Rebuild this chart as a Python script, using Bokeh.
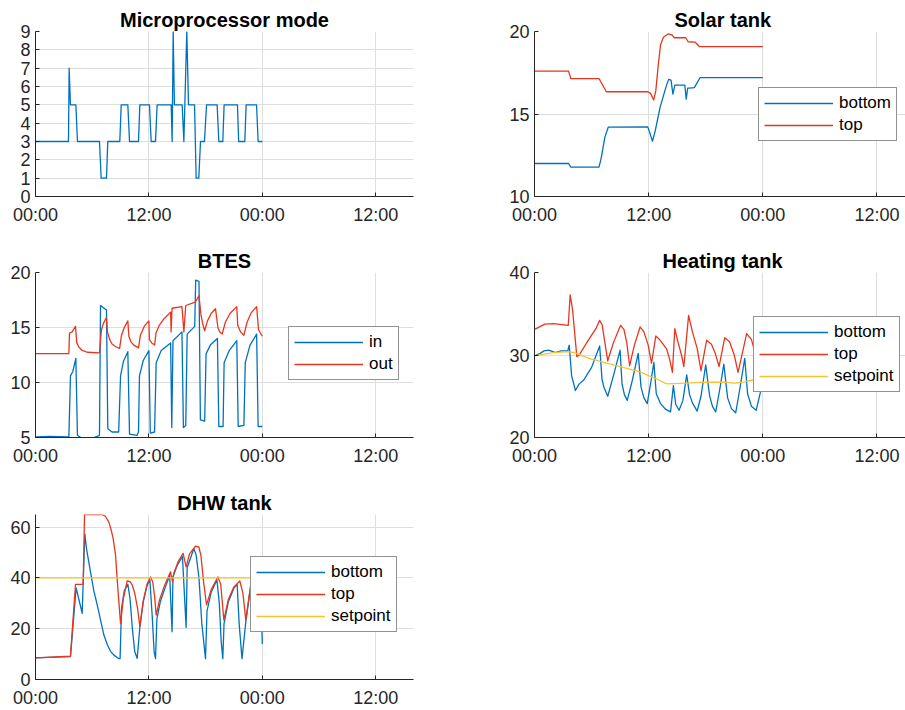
from bokeh.plotting import figure
from bokeh.models import Range1d, FixedTicker, Legend, LegendItem
from bokeh.layouts import row, column
from bokeh.embed import file_html
from bokeh.resources import INLINE

# ---------------------------------------------------------------- data (time in hours)
mode_h = [0, 3.49, 3.56, 3.70, 4.27, 4.44, 6.77, 6.95, 7.51, 7.65, 8.92, 9.07, 9.77, 9.95,
          10.90, 11.04, 12.06, 12.24, 12.70, 12.87, 14.36, 14.46, 14.57, 14.70, 15.52, 15.70,
          16.01, 16.19, 16.83, 17.00, 17.28, 17.46, 17.88, 18.10, 19.22, 19.40, 19.82, 19.96,
          21.37, 21.50, 22.15, 22.29, 23.39, 23.56, 24.0]
mode_v = [3, 3, 7, 5, 5, 3, 3, 1, 1, 3, 3, 5, 5, 3, 3, 5, 5, 3, 3, 5, 5, 3, 9, 5, 5, 3,
          9, 5, 5, 1, 1, 3, 3, 5, 5, 3, 3, 5, 5, 3, 3, 5, 5, 3, 3]

solar_top_h = [0, 3.58, 3.82, 6.78, 7.55, 11.93, 12.2, 12.53, 12.75, 13.0, 13.25, 13.55,
               14.05, 14.45, 14.7, 15.9, 16.15, 16.9, 17.35, 24.0]
solar_top = [17.6, 17.6, 17.15, 17.15, 16.35, 16.35, 16.25, 15.85, 16.4, 17.9, 19.2, 19.65,
             19.85, 19.8, 19.62, 19.62, 19.38, 19.35, 19.08, 19.08]
solar_bot_h = [0, 3.58, 3.82, 6.78, 7.0, 7.4, 7.75, 11.9, 12.1, 12.4, 12.7, 13.2, 13.8, 14.1,
               14.35, 14.55, 14.75, 15.8, 15.95, 16.1, 16.3, 16.8, 17.4, 24.0]
solar_bot = [12.0, 12.0, 11.78, 11.78, 12.3, 13.6, 14.2, 14.22, 13.9, 13.35, 14.0, 15.4, 16.6,
             17.1, 17.05, 16.2, 16.75, 16.75, 15.9, 16.57, 16.57, 16.6, 17.2, 17.2]

btes_in_h = [0, 1.5, 3.53, 3.7, 3.95, 4.27, 4.44, 4.94, 5.3, 5.8, 6.77, 6.88, 7.51, 7.65, 8.1,
             8.8, 9.0, 9.3, 9.77, 9.95, 10.75, 10.9, 11.0, 11.4, 12.0, 12.15, 12.6, 12.77, 13.3,
             14.3, 14.42, 14.55, 15.5, 15.65, 15.9, 16.05, 16.85, 16.95, 17.3, 17.45, 17.9,
             18.05, 18.5, 19.25, 19.4, 19.85, 19.96, 20.5, 21.3, 21.45, 22.05, 22.2, 22.7,
             23.4, 23.56, 24.0]
btes_in = [5.05, 5.1, 5.05, 10.6, 11.0, 12.2, 5.2, 4.9, 4.8, 4.85, 5.2, 17.0, 16.6, 5.8, 5.5,
           5.5, 10.6, 11.9, 12.8, 5.3, 5.2, 5.5, 10.6, 12.0, 12.9, 5.4, 5.5, 11.8, 12.9,
           13.6, 5.9, 13.8, 14.6, 5.9, 6.1, 14.4, 15.1, 19.3, 19.2, 6.6, 6.5,
           12.6, 13.4, 14.0, 6.0, 6.0, 11.8, 12.9, 13.8, 6.0, 6.1, 11.8, 13.4,
           14.4, 6.0, 6.0]
btes_out_h = [0, 3.53, 3.6, 3.88, 4.23, 4.37, 4.6, 4.9, 5.47, 6.77, 6.98, 7.2, 7.51, 7.62,
              7.85, 8.1, 8.5, 8.9, 9.1, 9.4, 9.77, 9.88, 10.1, 10.4, 10.9, 11.1, 11.5, 12.0,
              12.05, 12.3, 12.6, 12.75, 13.1, 13.6, 14.3, 14.35, 14.45, 15.5, 15.7, 15.9,
              16.9, 17.3, 17.5, 17.7, 17.9, 18.2, 18.6, 19.05, 19.3, 19.5, 19.75, 20.1, 20.6,
              21.3, 21.4, 21.7, 22.05, 22.4, 22.8, 23.4, 23.6, 24.0]
btes_out = [12.62, 12.62, 14.5, 14.6, 15.1, 13.6, 13.2, 12.95, 12.75, 12.7, 14.8, 15.4, 15.9,
            14.6, 13.9, 13.5, 13.25, 13.1, 14.3, 15.0, 15.6, 14.2, 13.7, 13.4, 13.15, 14.3,
            15.1, 15.6, 13.9, 13.6, 13.4, 14.5, 15.2, 15.8, 16.4, 14.6, 16.75, 16.9, 14.6,
            17.0, 17.3, 17.9, 16.2, 15.3, 14.7, 15.6, 16.3, 16.7, 15.0, 14.6, 14.4, 15.5,
            16.3, 16.9, 15.2, 14.6, 14.3, 15.5, 16.3, 16.9, 14.8, 14.2]

heat_top_h = [0, 1.1, 2.0, 3.55, 3.75, 4.0, 4.45, 4.7, 5.5, 6.5, 6.85, 7.1, 7.4, 7.7, 8.3,
              9.05, 9.4, 9.7, 10.0, 10.5, 11.1, 11.5, 11.95, 12.3, 12.75, 13.2, 13.9, 14.2,
              14.5, 14.75, 15.1, 15.45, 15.7, 16.2, 16.6, 17.1, 17.5, 18.1, 18.6, 19.0, 19.4,
              20.0, 20.5, 21.0, 21.4, 22.3, 22.8, 23.3, 23.6, 24.0]
heat_top = [33.1, 33.75, 33.8, 33.6, 37.3, 35.5, 29.8, 30.0, 31.5, 33.3, 34.2, 33.7, 31.5,
            29.3, 31.5, 33.6, 33.1, 31.5, 28.7, 31.2, 33.4, 32.8, 31.2, 29.0, 32.3, 31.8,
            30.7, 29.5, 27.9, 33.2, 31.5, 30.0, 28.6, 34.8, 32.8, 30.8, 28.1, 31.8, 31.3,
            30.2, 28.6, 32.1, 31.6, 30.0, 27.9, 32.6, 31.9, 29.8, 28.6, 30.2]
heat_bot_h = [0, 0.6, 1.0, 1.5, 2.2, 2.8, 3.5, 3.65, 3.9, 4.3, 4.7, 5.2, 6.0, 6.85, 7.1, 7.3,
              7.7, 8.3, 9.0, 9.2, 9.45, 9.75, 10.3, 10.9, 11.2, 11.5, 11.85, 12.2, 12.55,
              12.8, 13.25, 13.8, 14.3, 14.6, 14.85, 15.2, 15.6, 16.0, 16.3, 16.6, 17.1,
              17.5, 18.0, 18.4, 18.7, 19.05, 19.5, 19.9, 20.3, 20.7, 21.15, 21.6, 22.1,
              22.4, 22.8, 23.3, 23.75, 24.0]
heat_bot = [29.9, 30.2, 30.5, 30.6, 30.3, 30.5, 30.5, 31.2, 27.5, 25.7, 26.5, 27.0, 28.5,
            31.1, 27.0, 26.1, 25.0, 27.5, 30.6, 26.5, 25.2, 24.5, 27.0, 30.2, 26.1, 24.8,
            24.1, 26.5, 29.1, 25.3, 24.1, 23.4, 23.1, 26.3, 24.0, 23.3, 24.5, 27.6, 25.2,
            24.2, 23.2, 25.0, 28.8, 25.1, 23.8, 23.1, 26.0, 28.9, 24.8, 23.5, 23.0, 26.0,
            29.6, 25.3, 23.8, 23.3, 25.5, 27.0]
heat_set_h = [0, 1.0, 2.0, 3.5, 4.2, 5.0, 6.0, 7.0, 8.0, 9.0, 10.0, 11.0, 12.0, 13.0, 13.9,
              16.0, 18.0, 20.0, 21.0, 22.0, 23.0, 24.0]
heat_set = [29.9, 30.1, 30.3, 30.4, 30.3, 29.9, 29.5, 29.2, 28.9, 28.6, 28.3, 28.0, 27.5,
            27.0, 26.5, 26.6, 26.7, 26.7, 26.6, 26.7, 27.0, 27.3]

dhw_top_h = [0, 3.7, 4.23, 5.04, 5.19, 7.05, 7.4, 7.76, 8.0, 8.22, 8.47, 8.71, 9.0, 9.3, 9.7,
             10.0, 10.23, 10.5, 10.8, 11.04, 11.4, 11.8, 12.17, 12.4, 12.6, 12.77, 13.1, 13.6,
             14.29, 14.5, 14.65, 15.1, 15.62, 15.94, 16.3, 16.93, 17.28, 17.5, 17.8, 18.1,
             18.6, 19.3, 19.6, 19.93, 20.4, 21.0, 21.62, 21.95, 22.25, 22.8, 23.4, 24.0]
dhw_top = [8.5, 9.2, 37.5, 37.5, 65.0, 65.0, 64.3, 62.0, 59.0, 55.5, 49.0, 36.0, 22.0, 32.0,
           38.8, 38.6, 37.3, 34.0, 28.0, 20.9, 31.0, 37.5, 40.4, 38.5, 33.0, 25.4, 31.0, 36.5,
           42.4, 38.5, 42.0, 46.5, 49.7, 44.4, 49.5, 52.5, 52.2, 49.0, 38.0, 29.4,
           35.5, 40.4, 37.5, 23.5, 31.5, 36.5, 38.8, 34.0, 23.5, 38.0, 47.2, 47.2]
dhw_bot_h = [0, 3.7, 4.3, 4.94, 5.22, 5.4, 5.82, 6.17, 6.53, 6.88, 7.23, 7.6, 7.94, 8.3, 8.82,
             8.95, 9.1, 9.4, 9.77, 10.0, 10.25, 10.5, 10.76, 11.04, 11.4, 11.8, 12.1, 12.35,
             12.55, 12.7, 12.85, 13.2, 13.7, 14.2, 14.45, 14.55, 15.0, 15.55, 15.94, 16.05,
             16.75, 17.0, 17.3, 17.6, 17.99, 18.15, 18.6, 19.2, 19.45, 19.65, 19.82, 19.95,
             20.4, 21.0, 21.34, 21.55, 21.85, 22.25, 22.8, 23.4, 23.8, 24.0]
dhw_bot = [8.5, 9.0, 36.1, 26.1, 57.4, 51.5, 42.4, 35.0, 29.4, 23.5, 17.6, 13.7, 11.1, 9.6,
           8.2, 8.2, 28.0, 35.0, 37.5, 32.0, 20.0, 11.0, 8.3, 20.5, 30.5, 37.0, 39.2, 25.0,
           11.0, 8.2, 24.0, 30.5, 36.0, 41.0, 18.8, 40.5, 45.0, 48.4, 20.5, 44.0,
           51.6, 49.0, 40.0, 22.0, 8.2, 27.0, 34.5, 39.2, 30.0, 15.0, 8.2, 22.0,
           30.5, 36.0, 37.5, 22.0, 8.2, 22.5, 37.5, 45.0, 43.0, 14.0]
dhw_set_h = [0, 24.0]
dhw_set = [40, 40]

x_ticks = [0, 12, 24, 36]
x_tick_labels = ["00:00", "12:00", "00:00", "12:00"]

# ---------------------------------------------------------------- styling
FONT = "Liberation Sans"
BLUE = "#0072BD"
RED = "#E8361E"
YELLOW = "#F9C22E"
INK = "#262626"
GRID = "#DEDEDE"
LW = 1.3


def make_axes(title, width, height, left, top, bottom, right, x_end, y_lo, y_hi, y_ticks,
              title_offset=None):
    p = figure(width=width, height=height, output_backend="svg", toolbar_location=None,
               x_range=Range1d(0, x_end), y_range=Range1d(y_lo, y_hi),
               min_border_left=left, min_border_right=right,
               min_border_top=top, min_border_bottom=bottom)
    p.outline_line_color = None
    p.background_fill_color = "white"
    p.border_fill_color = "white"

    p.title.text = title
    p.title.text_font = FONT
    p.title.text_font_size = "20px"
    p.title.text_font_style = "bold"
    p.title.text_color = "black"
    p.title.standoff = 2
    if title_offset is None:
        p.title.align = "center"
    else:
        p.title.align = "left"
        p.title.offset = title_offset

    xt = FixedTicker(ticks=x_ticks)
    yt = FixedTicker(ticks=y_ticks)
    p.xaxis[0].ticker = xt
    p.xgrid[0].ticker = xt
    p.yaxis[0].ticker = yt
    p.ygrid[0].ticker = yt
    p.xaxis[0].major_label_overrides = {t: s for t, s in zip(x_ticks, x_tick_labels)}

    for ax in p.axis:
        ax.axis_line_color = INK
        ax.axis_line_width = 1
        ax.major_tick_line_color = INK
        ax.major_tick_in = 4
        ax.major_tick_out = 0
        ax.minor_tick_line_color = None
        ax.major_label_text_font = FONT
        ax.major_label_text_font_size = "18px"
        ax.major_label_text_color = INK
    p.xaxis[0].major_label_standoff = 8
    p.yaxis[0].major_label_standoff = 5

    for g in (p.xgrid[0], p.ygrid[0]):
        g.grid_line_color = GRID
        g.grid_line_width = 1
    return p


def add_legend(p, pairs, loc):
    leg = Legend(items=[LegendItem(label=lab, renderers=[r]) for lab, r in pairs],
                 location=loc, padding=5, spacing=2, margin=0,
                 label_height=20, glyph_height=20, glyph_width=69, label_standoff=6,
                 border_line_color=INK, border_line_width=1,
                 background_fill_color="white", background_fill_alpha=1.0,
                 label_text_font=FONT, label_text_font_size="17px",
                 label_text_color="black")
    p.add_layout(leg)


def draw(p, x, y, color):
    return p.line(x, y, line_color=color, line_width=LW, line_join="round")


# Microprocessor mode
p_mode = make_axes("Microprocessor mode", 480, 240, 35, 31, 44, 67, 40, 0, 9, list(range(10)))
draw(p_mode, mode_h, mode_v, BLUE)

# Solar tank
p_solar = make_axes("Solar tank", 425, 240, 54, 31, 44, 0, 39, 10, 20, [10, 15, 20],
                    title_offset=140)
r_sb = draw(p_solar, solar_bot_h, solar_bot, BLUE)
r_st = draw(p_solar, solar_top_h, solar_top, RED)
add_legend(p_solar, [("bottom", r_sb), ("top", r_st)], (224, 55))

# BTES
p_btes = make_axes("BTES", 480, 240, 35, 32, 43, 67, 40, 5, 20, [5, 10, 15, 20])
r_bi = draw(p_btes, btes_in_h, btes_in, BLUE)
r_bo = draw(p_btes, btes_out_h, btes_out, RED)
add_legend(p_btes, [("in", r_bi), ("out", r_bo)], (253, 57))

# Heating tank
p_heat = make_axes("Heating tank", 425, 240, 54, 32, 43, 0, 39, 20, 40, [20, 30, 40],
                   title_offset=128)
r_hb = draw(p_heat, heat_bot_h, heat_bot, BLUE)
r_ht = draw(p_heat, heat_top_h, heat_top, RED)
r_hs = draw(p_heat, heat_set_h, heat_set, YELLOW)
add_legend(p_heat, [("bottom", r_hb), ("top", r_ht), ("setpoint", r_hs)], (219, 45))

# DHW tank
p_dhw = make_axes("DHW tank", 480, 230, 35, 34, 30, 67, 40, 0, 65, [0, 20, 40, 60])
r_db = draw(p_dhw, dhw_bot_h, dhw_bot, BLUE)
r_dt = draw(p_dhw, dhw_top_h, dhw_top, RED)
r_ds = draw(p_dhw, dhw_set_h, dhw_set, YELLOW)
add_legend(p_dhw, [("bottom", r_db), ("top", r_dt), ("setpoint", r_ds)], (215, 47))

layout = column(row(p_mode, p_solar), row(p_btes, p_heat), p_dhw)

open("out.html", "w").write(file_html(layout, INLINE))
